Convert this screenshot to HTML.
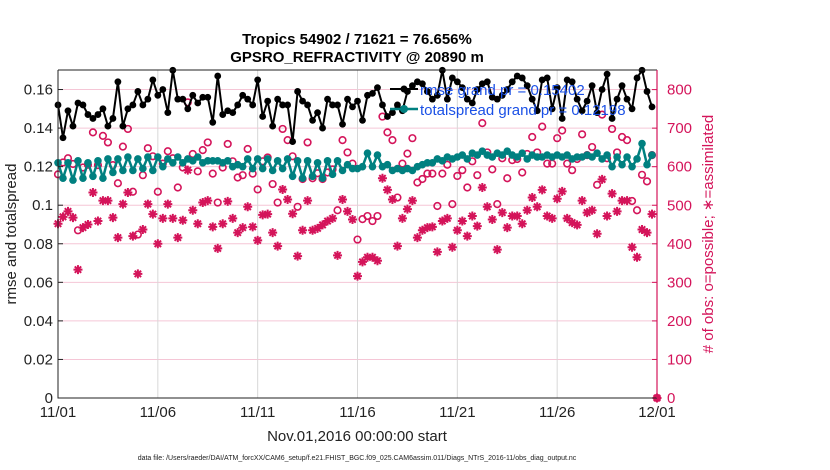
<!DOCTYPE html>
<html><head><meta charset="utf-8"><style>
body{margin:0;background:#fff;}
svg{display:block;font-family:"Liberation Sans",sans-serif;}
</style></head><body>
<svg id="chart" width="830" height="470" viewBox="0 0 830 470">
<g id="grid"></g>
<g id="series"></g>
<g id="axes"></g>
<text x="357" y="44" text-anchor="middle" font-size="15" font-weight="bold">Tropics 54902 / 71621 = 76.656%</text>
<text x="357" y="62" text-anchor="middle" font-size="15" font-weight="bold">GPSRO_REFRACTIVITY @ 20890 m</text>
<text x="357" y="441" text-anchor="middle" font-size="15" fill="#222">Nov.01,2016 00:00:00 start</text>
<text x="357" y="460" text-anchor="middle" font-size="7" fill="#222">data file: /Users/raeder/DAI/ATM_forcXX/CAM6_setup/f.e21.FHIST_BGC.f09_025.CAM6assim.011/Diags_NTrS_2016-11/obs_diag_output.nc</text>
<text transform="translate(16,234) rotate(-90)" text-anchor="middle" font-size="15" fill="#222">rmse and totalspread</text>
<text transform="translate(713,234) rotate(-90)" text-anchor="middle" font-size="15" fill="#d4145a"># of obs: o=possible; ∗=assimilated</text>
<g id="legend">
<line x1="390" y1="89" x2="418" y2="89" stroke="#000" stroke-width="2"/>
<circle cx="404" cy="89" r="3.5" fill="#000"/>
<text x="420" y="95" font-size="15" fill="#1a50e6">rmse grand pr = 0.15402</text>
<line x1="390" y1="109" x2="418" y2="109" stroke="#008080" stroke-width="2.5"/>
<circle cx="404" cy="109" r="4" fill="#008080"/>
<text x="420" y="115" font-size="15" fill="#1a50e6">totalspread grand pr = 0.12198</text>
</g>
</svg>
<script>
const dayTicks=["11/01","11/06","11/11","11/16","11/21","11/26","12/01"];
const leftTicks=["0","0.02","0.04","0.06","0.08","0.1","0.12","0.14","0.16"];
const rightTicks=["0","100","200","300","400","500","600","700","800"];
const rmse=[.152,.135,.149,.141,.153,.152,.147,.145,.147,.150,.141,.145,.164,.141,.150,.152,.159,.152,.155,.165,.157,.160,.148,.170,.155,.155,.150,.157,.153,.156,
.156,.143,.167,.147,.149,.148,.152,.157,.155,.152,.165,.146,.154,.141,.155,.152,.152,.133,.159,.154,.152,.144,.148,.140,.155,.152,.152,.142,.155,.151,
.154,.144,.157,.158,.161,.152,.146,.148,.152,.149,.159,.162,.164,.163,.159,.155,.157,.170,.155,.166,.164,.161,.155,.153,.160,.163,.164,.156,.155,.157,
.160,.164,.167,.166,.162,.155,.149,.165,.166,.150,.161,.145,.165,.164,.155,.149,.154,.162,.148,.160,.168,.145,.155,.162,.155,.150,.166,.170,.159,.151];
const spread=[.122,.114,.122,.113,.123,.114,.122,.115,.123,.114,.124,.117,.124,.118,.125,.118,.124,.119,.125,.118,.125,.120,.124,.122,.125,.122,.124,.123,.125,.122,
.123,.123,.123,.122,.123,.120,.121,.120,.124,.119,.124,.119,.124,.118,.123,.119,.124,.115,.123,.114,.123,.115,.122,.114,.123,.116,.123,.118,.121,.119,
.119,.120,.127,.120,.126,.120,.121,.118,.119,.118,.119,.118,.120,.121,.122,.122,.124,.123,.125,.124,.125,.126,.124,.127,.126,.128,.126,.125,.127,.126,
.128,.126,.125,.127,.124,.126,.125,.125,.126,.125,.126,.125,.126,.124,.125,.125,.126,.125,.127,.124,.126,.120,.125,.121,.125,.120,.124,.132,.121,.126];
const possible=[580,611,622,607,435,598,605,689,604,680,663,604,557,652,698,535,424,578,648,627,535,608,640,622,546,598,767,633,588,643,
663,582,507,598,659,614,572,578,646,582,541,614,624,555,507,698,669,627,496,568,663,570,583,568,585,593,487,669,637,608,
411,464,472,459,472,730,689,669,520,608,634,674,559,568,582,582,498,582,605,503,576,591,546,614,578,713,637,593,503,622,
570,617,620,585,633,677,637,704,608,608,674,694,608,591,620,684,630,651,553,735,622,698,637,677,669,511,487,579,562,630,0];
const assimilated=[452,470,484,468,333,442,450,533,459,512,512,468,416,503,533,420,322,437,503,477,400,466,503,466,416,461,591,487,452,507,
512,444,388,452,510,466,429,442,496,444,409,475,477,429,394,541,515,478,368,435,512,435,440,449,459,466,370,515,484,463,
316,353,365,365,356,570,540,515,394,466,490,512,416,435,442,444,379,459,466,391,435,459,420,472,446,546,496,463,385,481,
442,472,472,452,487,520,496,540,472,466,517,536,466,455,449,512,481,487,426,567,472,530,484,512,512,391,365,437,429,477,0];

const NS="http://www.w3.org/2000/svg";
const X0=58,X1=657,Y0=398,YT=70;
const xScale=d=>X0+(X1-X0)*d/30;
const yL=v=>Y0-v*1928;
const yR=v=>Y0-v*0.3855;
function mk(tag,attrs,parent){const e=document.createElementNS(NS,tag);for(const k in attrs)e.setAttribute(k,attrs[k]);parent.appendChild(e);return e;}
const grid=document.getElementById('grid'),ser=document.getElementById('series'),ax=document.getElementById('axes');
// horizontal grid
leftTicks.forEach((t,i)=>{const y=yL(parseFloat(t));if(i>0){const l=mk('line',{x1:X0,x2:X1,y1:y,y2:y,stroke:'#f5c6d6','stroke-width':1},grid);

}
mk('line',{x1:X0,x2:X0+5,y1:y,y2:y,stroke:'#222'},ax);
const tx=mk('text',{x:X0-5,y:y+5,'text-anchor':'end','font-size':15,fill:'#222'},ax);tx.textContent=t;

});
dayTicks.forEach((t,i)=>{const x=xScale(i*5);if(i>0&&i<6){const l=mk('line',{x1:x,x2:x,y1:YT,y2:Y0,stroke:'#d8d8d8'},grid);

}
const tx=mk('text',{x:x,y:417,'text-anchor':'middle','font-size':15,fill:'#222'},ax);tx.textContent=t;

});
rightTicks.forEach(t=>{const y=yR(parseFloat(t));mk('line',{x1:X1-5,x2:X1,y1:y,y2:y,stroke:'#d4145a'},ax);
const tx=mk('text',{x:X1+10,y:y+5,'font-size':15,fill:'#d4145a'},ax);tx.textContent=t;

});
mk('path',{d:`M${X0} ${YT}H${X1}M${X0} ${YT}V${Y0}H${X1}`,stroke:'#222',fill:'none','stroke-width':1},ax);
mk('line',{x1:X1,x2:X1,y1:YT,y2:Y0,stroke:'#d4145a','stroke-width':1.2},ax);
// obs
possible.forEach((v,i)=>{const c=mk('circle',{cx:xScale(i/4),cy:yR(v),r:3.3,fill:'none',stroke:'#d4145a','stroke-width':1.6},ser);

});
assimilated.forEach((v,i)=>{const x=xScale(i/4),y=yR(v),r=4.5,d=3.2;
const p=mk('path',{d:`M${x-r} ${y}H${x+r}M${x} ${y-r}V${y+r}M${x-d} ${y-d}L${x+d} ${y+d}M${x-d} ${y+d}L${x+d} ${y-d}`,stroke:'#d4145a','stroke-width':2},ser);

});
function line(arr,color,w,r,name){const pts=arr.map((v,i)=>xScale(i/4)+','+yL(v)).join(' ');
const pl=mk('polyline',{points:pts,fill:'none',stroke:color,'stroke-width':w,'stroke-linejoin':'round'},ser);


arr.forEach((v,i)=>{const c=mk('circle',{cx:xScale(i/4),cy:yL(v),r:r,fill:color},ser);

});}
line(spread,'#008080',2.5,3.8,'totalspread');
line(rmse,'#000',2,3.4,'rmse');
</script>
</body></html>
